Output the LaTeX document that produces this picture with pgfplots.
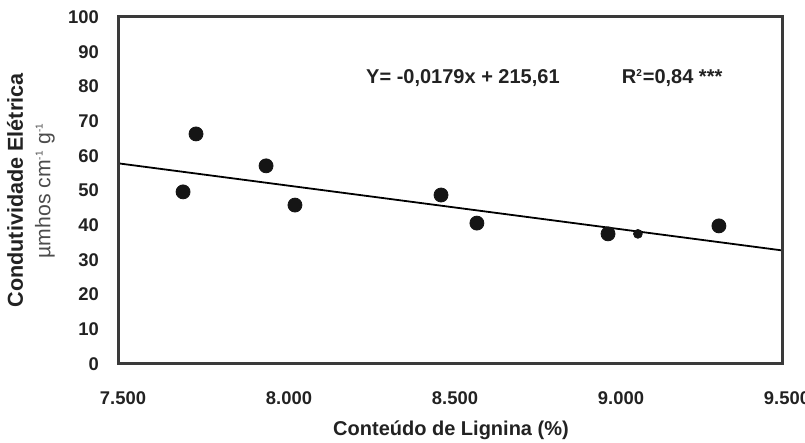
\documentclass[border=0pt]{standalone}
\usepackage{fontspec}
\setmainfont{Liberation Sans}
\usepackage{pgfplots}
\pgfplotsset{compat=1.18}
\definecolor{ink}{HTML}{222222}
\definecolor{frame}{HTML}{3A3A3A}
\definecolor{dot}{HTML}{151515}
\begin{document}
\begin{tikzpicture}
\begin{axis}[
  at={(59.5pt,39.5pt)}, anchor=south west,
  scale only axis,
  width=332pt, height=173.5pt,
  xmin=7500, xmax=9500,
  ymin=0, ymax=100,
  xtick={7500,8000,8500,9000,9500},
  ytick={0,10,...,100},
  major tick length=0pt,
  axis line style={frame, line width=1.5pt},
  tick label style={font=\fontsize{9.2}{10}\selectfont\bfseries, text=ink},
  /pgf/number format/assume math mode=true,
  /pgf/number format/1000 sep={.},
  /pgf/number format/use comma,
  xticklabel style={yshift=-10.5pt, xshift=2pt},
  yticklabel style={xshift=-6.5pt},
  clip=false,
]
% observed points
\addplot[only marks, mark=*, mark size=3.5pt, color=dot]
  coordinates {(7693,49.6) (7732,66.3) (7943,57.1) (8030,45.8) (8470,48.7)
               (8578,40.6) (8973,37.5) (9307,39.8)};
\addplot[only marks, mark=*, mark size=2.2pt, color=dot]
  coordinates {(9063,37.5)};
% fitted line
\addplot[black, line width=0.9pt] coordinates {(7500,57.8) (9500,32.7)};

\draw[frame, line width=1.5pt] (rel axis cs:0,0) rectangle (rel axis cs:1,1);

\node[font=\fontsize{10}{11}\selectfont\bfseries, text=ink] at (axis cs:8536,82.4)
  {Y= -0,0179x + 215,61};
\node[font=\fontsize{10}{11}\selectfont\bfseries, text=ink] at (axis cs:9166,82.4)
  {R\textsuperscript{\tiny 2}=0,84 ***};

\node[rotate=90, font=\fontsize{10.8}{12}\selectfont\bfseries, text=ink]
  at ([xshift=-52pt]axis description cs:0,0.5) {Condutividade Elétrica};
\node[rotate=90, font=\fontsize{10.6}{12}\selectfont, text=black!70]
  at ([xshift=-37pt]axis description cs:0,0.5)
  {µmhos cm\textsuperscript{\fontsize{5}{6}\selectfont -1} g\textsuperscript{\fontsize{5}{6}\selectfont -1}};
\node[font=\fontsize{10}{11}\selectfont\bfseries, text=ink]
  at ([yshift=-33pt]axis description cs:0.5,0) {Conteúdo de Lignina (\%)};
\end{axis}
\pgfresetboundingbox
\useasboundingbox (0,0) rectangle (402.5pt,221.5pt);
\end{tikzpicture}
\end{document}
